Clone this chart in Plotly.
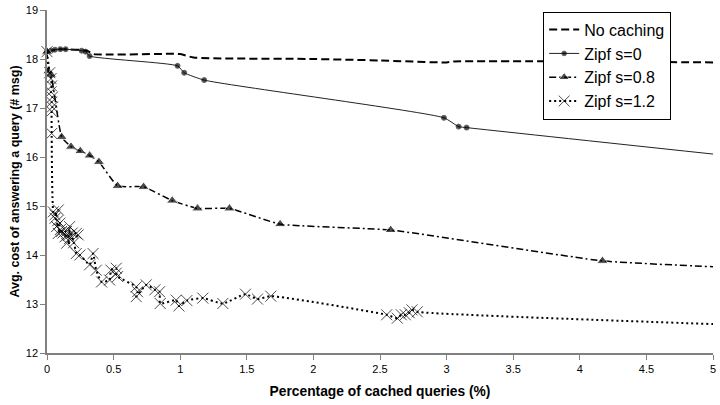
import plotly.graph_objects as go

# ---- data ----
no_x = [0, 0.1, 0.3, 0.35, 1.0, 1.1, 2.0, 2.5, 3.0, 3.05, 5.0]
no_y = [18.15, 18.2, 18.17, 18.1, 18.1, 18.03, 18.0, 17.97, 17.93, 17.95, 17.93]

s0_x = [0, 0.03, 0.06, 0.1, 0.14, 0.26, 0.29, 0.32, 0.98, 1.03, 1.18, 2.98, 3.09, 3.15, 5.0]
s0_y = [18.15, 18.17, 18.19, 18.2, 18.2, 18.17, 18.15, 18.06, 17.86, 17.72, 17.57, 16.8, 16.62, 16.6, 16.06]

s08_x = [0, 0.01, 0.03, 0.11, 0.18, 0.25, 0.32, 0.39, 0.53, 0.725, 0.94, 1.13, 1.37, 1.75, 2.58, 4.17, 5.0]
s08_y = [18.15, 17.75, 17.68, 16.41, 16.21, 16.12, 16.03, 15.9, 15.41, 15.39, 15.11, 14.95, 14.95, 14.63, 14.51, 13.88, 13.76]

s12_x = [0, 0.02, 0.03, 0.035, 0.03, 0.04, 0.035, 0.04, 0.035, 0.035,
         0.047, 0.06, 0.085, 0.06, 0.08, 0.072, 0.097, 0.085, 0.1, 0.11, 0.12,
         0.147, 0.135, 0.16, 0.17, 0.17, 0.19, 0.22, 0.234, 0.147, 0.2, 0.22, 0.247,
         0.32, 0.346, 0.37, 0.41, 0.47, 0.48, 0.52, 0.52, 0.53,
         0.67, 0.68, 0.67, 0.745, 0.81, 0.845, 0.85, 0.97, 0.99, 1.05,
         1.17, 1.32, 1.49, 1.58, 1.68,
         2.55, 2.63, 2.66, 2.69, 2.72, 2.74, 2.78, 5.0]
s12_y = [18.15, 17.72, 17.6, 17.45, 17.33, 17.22, 17.12, 17.02, 16.93, 16.48,
         14.88, 14.82, 14.92, 14.75, 14.7, 14.58, 14.65, 14.44, 14.52, 14.48, 14.45,
         14.48, 14.37, 14.4, 14.58, 14.34, 14.45, 14.44, 14.41, 14.24, 14.25, 14.03, 14.0,
         13.8, 14.03, 13.69, 13.45, 13.49, 13.69, 13.73, 13.63, 13.56,
         13.35, 13.25, 13.15, 13.39, 13.29, 13.25, 13.01, 13.08, 12.96, 13.07,
         13.12, 13.01, 13.2, 13.1, 13.16,
         12.78, 12.71, 12.78, 12.78, 12.82, 12.88, 12.84, 12.59]

x_ticks = [0, 0.5, 1, 1.5, 2, 2.5, 3, 3.5, 4, 4.5, 5]
y_ticks = [12, 13, 14, 15, 16, 17, 18, 19]

FONT = "Liberation Sans, Arial, sans-serif"


def sizes(n, s):
    return [s] * (n - 1) + [0]


fig = go.Figure()
fig.add_trace(go.Scatter(
    x=no_x, y=no_y, name="No caching", mode="lines",
    line=dict(color="black", width=2, dash="8px,4px", shape="spline", smoothing=0.5),
    cliponaxis=False))
fig.add_trace(go.Scatter(
    x=s0_x, y=s0_y, name="Zipf s=0", mode="lines+markers",
    line=dict(color="#222222", width=1, shape="spline", smoothing=0.5),
    marker=dict(symbol="circle", size=sizes(len(s0_x), 5), color="black"),
    cliponaxis=False))
fig.add_trace(go.Scatter(
    x=s08_x, y=s08_y, name="Zipf s=0.8", mode="lines+markers",
    line=dict(color="black", width=1.5, dash="7px,3px,2px,3px", shape="spline", smoothing=0.4),
    marker=dict(symbol="triangle-up", size=sizes(len(s08_x), 10), color="black"),
    cliponaxis=False))
fig.add_trace(go.Scatter(
    x=s12_x, y=s12_y, name="Zipf s=1.2", mode="lines+markers",
    line=dict(color="black", width=2, dash="2px,3px", shape="spline", smoothing=0.5),
    marker=dict(symbol="x-thin", size=sizes(len(s12_x), 11), color="black",
                line=dict(color="black", width=1)),
    cliponaxis=False))

fig.update_layout(
    width=720, height=405,
    margin=dict(l=47, r=4, t=10, b=52),
    paper_bgcolor="white", plot_bgcolor="white",
    font=dict(family=FONT, color="black", size=11),
    showlegend=True,
    legend=dict(
        x=0.745, y=0.995, xanchor="left", yanchor="top",
        bgcolor="white", bordercolor="black", borderwidth=1,
        font=dict(family=FONT, size=16, color="black"),
        tracegroupgap=0,
    ),
    xaxis=dict(
        range=[0, 5], tickmode="array", tickvals=x_ticks,
        ticktext=[f"{v:g}" for v in x_ticks],
        showgrid=False, zeroline=False, showline=True,
        linecolor="#808080", linewidth=1.5,
        ticks="outside", ticklen=5, tickcolor="#808080",
        tickfont=dict(family=FONT, size=11),
        ticklabeloverflow="allow",
        title=dict(text="<b>Percentage of cached queries (%)</b>",
                   font=dict(family=FONT, size=13.8), standoff=12),
    ),
    yaxis=dict(
        range=[12, 19], tickmode="array", tickvals=y_ticks,
        ticktext=[str(v) for v in y_ticks],
        showgrid=False, zeroline=False, showline=True,
        linecolor="#808080", linewidth=1.5,
        ticks="outside", ticklen=5, tickcolor="#808080",
        tickfont=dict(family=FONT, size=11),
        title=dict(text="<b>Avg. cost of answering a query (# msg)</b>",
                   font=dict(family=FONT, size=12.5), standoff=3),
    ),
)

fig.write_html("out.html",
               config={"displayModeBar": False},
               post_script="document.body.style.margin='0';document.body.style.overflow='hidden';")
